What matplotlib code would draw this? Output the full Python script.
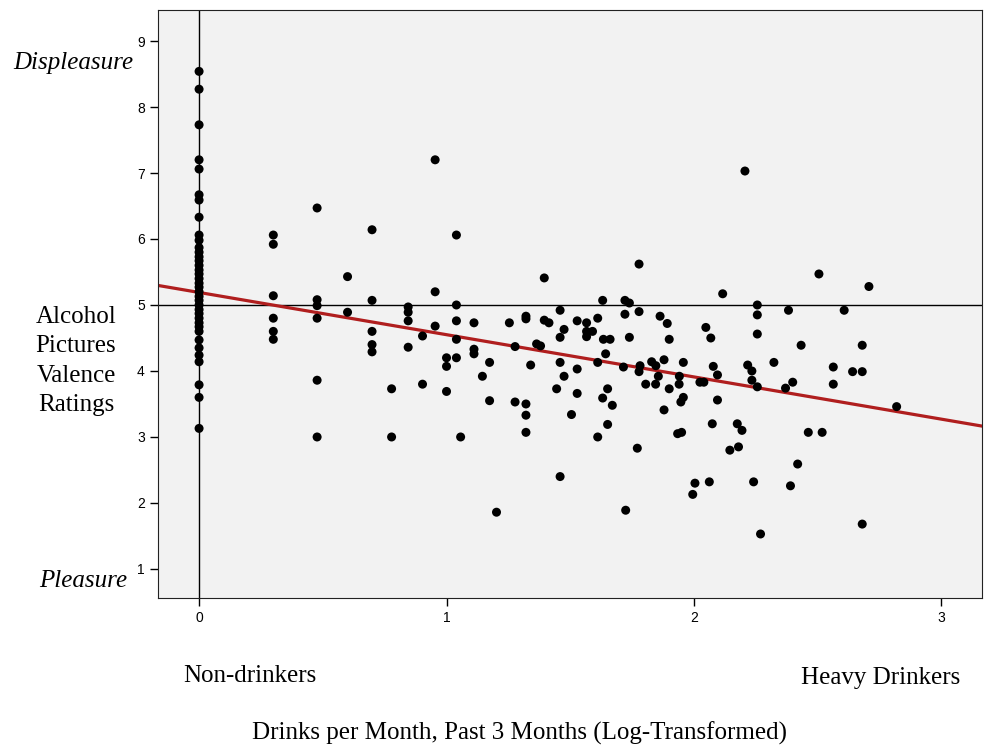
import matplotlib
matplotlib.use("Agg")
import matplotlib.pyplot as plt
import numpy as np

# ---- data ----
zero_valence = [8.54, 8.27, 7.73, 7.20, 7.06, 6.67, 6.59, 6.33, 6.06, 5.98, 5.87,
                5.80, 5.73, 5.67, 5.60, 5.53, 5.47, 5.40, 5.33, 5.27, 5.20, 5.13,
                5.07, 5.00, 4.93, 4.87, 4.80, 4.73, 4.67, 4.60, 4.47, 4.35, 4.24,
                4.14, 3.79, 3.60, 3.13]

drinker_x = [
    0.30, 0.30, 0.30, 0.30, 0.30, 0.30,
    0.477, 0.477, 0.477, 0.477, 0.477, 0.477,
    0.60, 0.60,
    0.699, 0.699, 0.699, 0.699, 0.699,
    0.778, 0.778,
    0.845, 0.845, 0.845, 0.845,
    0.903, 0.903,
    0.954, 0.954, 0.954,
    1.0, 1.0, 1.0,
    1.04, 1.04, 1.04, 1.04, 1.04,
    1.057,
    1.111, 1.111, 1.111,
    1.145,
    1.174, 1.174,
    1.202,
    1.254,
    1.277, 1.277,
    1.321, 1.321, 1.321, 1.321, 1.321,
    1.34, 1.364, 1.38,
    1.395, 1.395,
    1.414, 1.445,
    1.459, 1.459, 1.459, 1.459,
    1.475, 1.475,
    1.505,
    1.528, 1.528, 1.528,
    1.566, 1.566, 1.566,
    1.59,
    1.611, 1.611, 1.611,
    1.631, 1.631,
    1.634, 1.643,
    1.651, 1.651,
    1.661, 1.67, 1.715,
    1.721, 1.721,
    1.724,
    1.739, 1.739,
    1.771,
    1.778, 1.778, 1.778,
    1.782, 1.805, 1.829, 1.845, 1.846, 1.856, 1.863,
    1.879, 1.879,
    1.892,
    1.9, 1.9,
    1.934, 1.94, 1.941, 1.947, 1.95,
    1.957, 1.957,
    1.995, 2.004, 2.024, 2.04, 2.048, 2.062, 2.068, 2.074, 2.078,
    2.095, 2.095,
    2.116, 2.145, 2.175, 2.18, 2.194, 2.206, 2.217,
    2.234, 2.234,
    2.241,
    2.256, 2.256, 2.256, 2.256,
    2.269, 2.323, 2.37, 2.382, 2.39, 2.399, 2.419, 2.433, 2.462, 2.505, 2.518,
    2.563, 2.563,
    2.607, 2.641,
    2.68, 2.68, 2.68,
    2.707, 2.819,
]

drinker_valence = [
    6.06, 5.92, 5.14, 4.80, 4.60, 4.48,
    6.47, 5.08, 4.99, 4.80, 3.86, 3.00,
    5.43, 4.89,
    6.14, 5.07, 4.60, 4.40, 4.29,
    3.73, 3.00,
    4.97, 4.89, 4.76, 4.36,
    4.53, 3.80,
    7.20, 5.20, 4.68,
    4.20, 4.07, 3.69,
    6.06, 5.00, 4.76, 4.48, 4.20,
    3.00,
    4.73, 4.33, 4.26,
    3.92,
    4.13, 3.55,
    1.86,
    4.73,
    4.37, 3.53,
    4.83, 4.79, 3.50, 3.33, 3.07,
    4.09, 4.41, 4.38,
    5.41, 4.77,
    4.73, 3.73,
    4.92, 4.51, 4.13, 2.40,
    4.63, 3.92,
    3.34,
    4.76, 4.03, 3.66,
    4.73, 4.60, 4.52,
    4.60,
    4.80, 4.13, 3.00,
    5.07, 3.59,
    4.48, 4.26,
    3.73, 3.19,
    4.48, 3.48, 4.06,
    5.07, 4.86,
    1.89,
    5.03, 4.51,
    2.83,
    5.62, 4.90, 3.99,
    4.08, 3.80, 4.14, 3.80, 4.08, 3.92, 4.83,
    4.17, 3.41,
    4.72,
    4.48, 3.73,
    3.05, 3.80, 3.92, 3.53, 3.07,
    4.13, 3.60,
    2.13, 2.30, 3.83, 3.83, 4.66, 2.32, 4.50, 3.20, 4.07,
    3.94, 3.56,
    5.17, 2.80, 3.20, 2.85, 3.10, 7.03, 4.09,
    4.00, 3.86,
    2.32,
    5.00, 4.85, 4.56, 3.76,
    1.53, 4.13, 3.74, 4.92, 2.26, 3.83, 2.59, 4.39, 3.07, 5.47, 3.07,
    4.06, 3.80,
    4.92, 3.99,
    4.39, 3.99, 1.68,
    5.28, 3.46,
]

fit_intercept = 5.19
fit_slope = -0.64

x_ticks = [0, 1, 2, 3]
y_ticks = [1, 2, 3, 4, 5, 6, 7, 8, 9]
x_limits = (-0.166, 3.164)
y_limits = (0.56, 9.47)

# ---- figure ----
fig = plt.figure(figsize=(9.97, 7.47), dpi=100)
ax = fig.add_axes([158 / 997, 1 - 598 / 747, (982 - 158) / 997, (598 - 10) / 747])
ax.set_facecolor("#f2f2f2")

ax.set_xlim(*x_limits)
ax.set_ylim(*y_limits)

# reference lines
ax.axhline(5, color="black", lw=1.0, zorder=1)
ax.axvline(0, color="black", lw=1.0, zorder=1)

# regression line
xs = np.array(x_limits)
ax.plot(xs, fit_intercept + fit_slope * xs, color="#b01e1e", lw=2.3, zorder=2)

# points
all_x = [0.0] * len(zero_valence) + drinker_x
all_y = zero_valence + drinker_valence
ax.scatter(all_x, all_y, s=42, color="black", edgecolors="none", zorder=3)

ax.set_xticks(x_ticks)
ax.set_yticks(y_ticks)
ax.tick_params(axis="both", direction="out", length=6, width=1, labelsize=10,
               color="black")
for lab in ax.get_xticklabels() + ax.get_yticklabels():
    lab.set_family("Liberation Sans")
for sp in ax.spines.values():
    sp.set_linewidth(0.8)
    sp.set_color("#222222")

serif = "Liberation Serif"
fs = 18
fig.text(133 / 997, 1 - 63 / 747, "Displeasure", ha="right", va="center",
         family=serif, style="italic", fontsize=fs)
fig.text(127 / 997, 1 - 581 / 747, "Pleasure", ha="right", va="center",
         family=serif, style="italic", fontsize=fs)
fig.text(76 / 997, 1 - 361 / 747, "Alcohol\nPictures\nValence\nRatings",
         ha="center", va="center", family=serif, fontsize=fs, linespacing=1.45,
         multialignment="center")
fig.text(250 / 997, 1 - 676 / 747, "Non-drinkers", ha="center", va="center",
         family=serif, fontsize=fs)
fig.text(881 / 997, 1 - 678 / 747, "Heavy Drinkers", ha="center", va="center",
         family=serif, fontsize=fs)
fig.text(519 / 997, 1 - 733 / 747,
         "Drinks per Month, Past 3 Months (Log-Transformed)",
         ha="center", va="center", family=serif, fontsize=fs)

fig.savefig("out.png", dpi=100)
